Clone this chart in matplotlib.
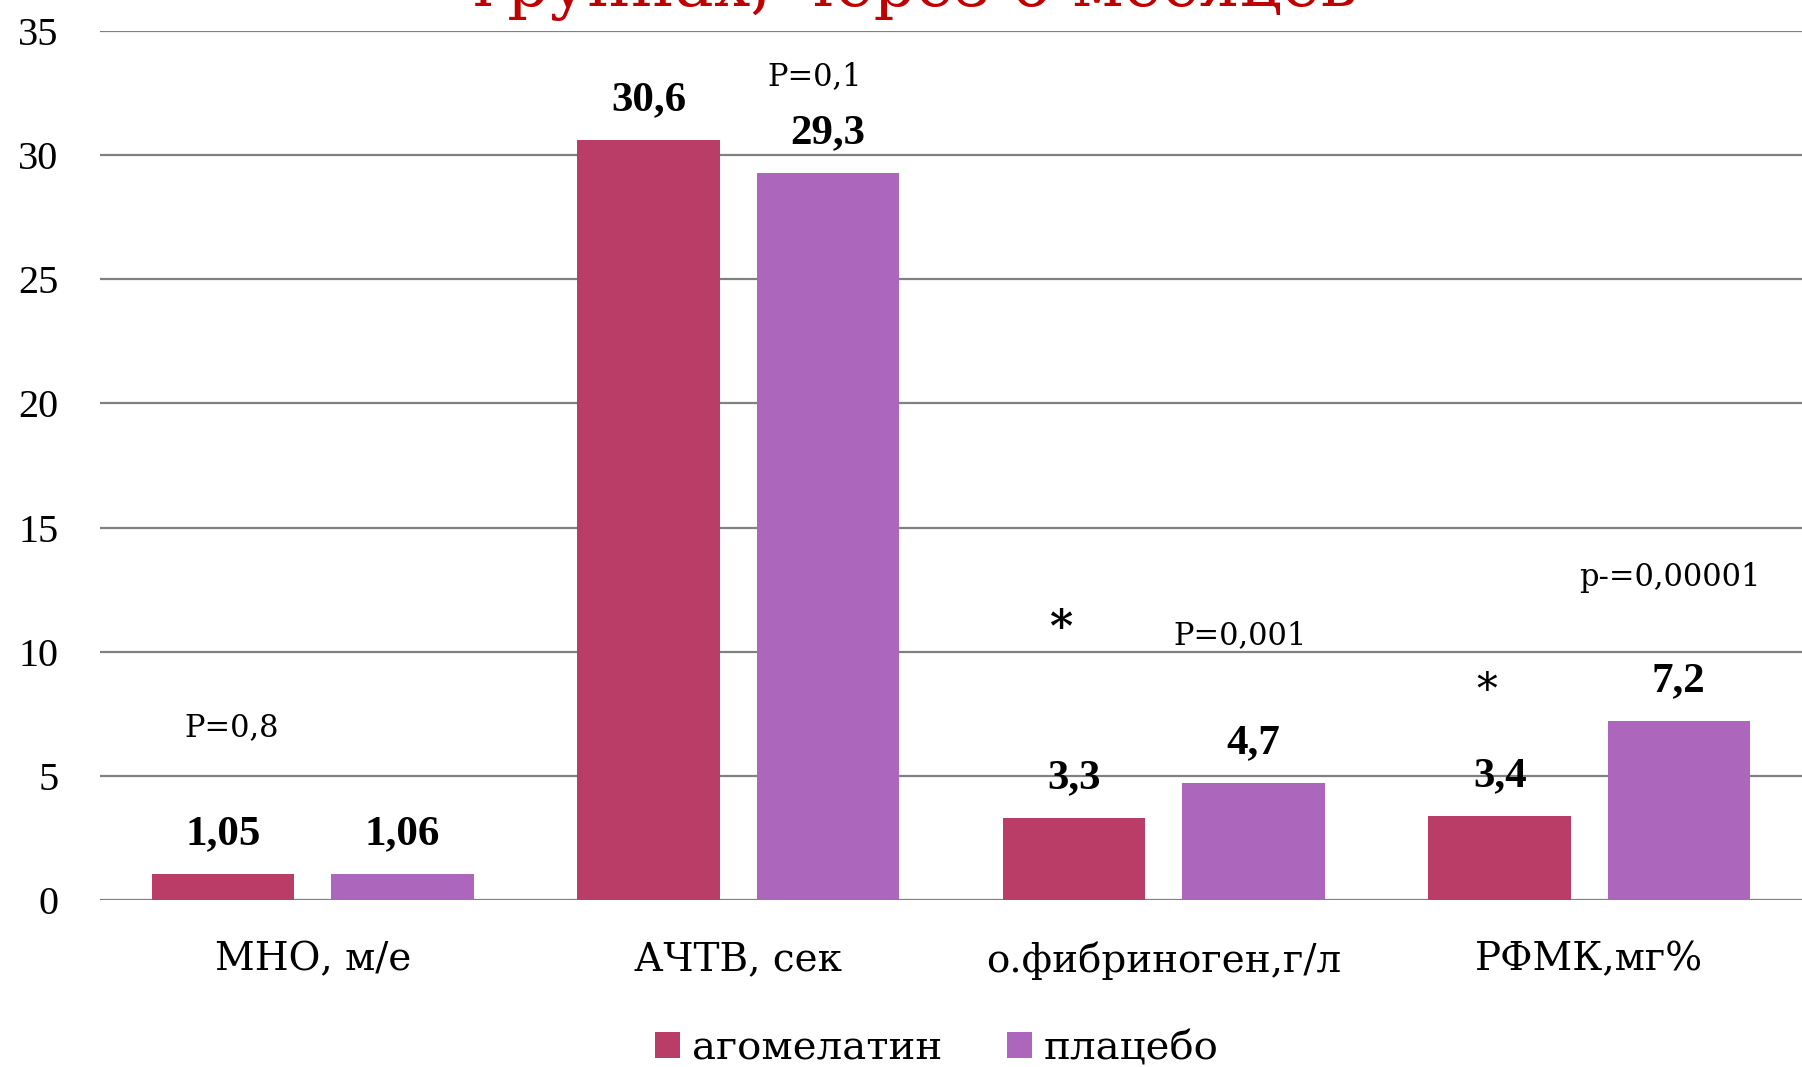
import matplotlib
matplotlib.use("Agg")
import matplotlib.pyplot as plt
import numpy as np

plt.rcParams['font.family'] = ['Liberation Serif', 'DejaVu Serif']

categories = ["МНО, м/е", "АЧТВ, сек", "о.фибриноген,г/л", "РФМК,мг%"]
agomelatin = [1.05, 30.6, 3.3, 3.4]
placebo = [1.06, 29.3, 4.7, 7.2]
agomelatin_labels = ["1,05", "30,6", "3,3", "3,4"]
placebo_labels = ["1,06", "29,3", "4,7", "7,2"]
series_names = ["агомелатин", "плацебо"]

# p-value notes: (x, y, text)
p_notes = [(-0.19, 6.94, "P=0,8"), (1.18, 33.15, "P=0,1"),
           (2.18, 10.65, "P=0,001"), (3.19, 13.0, "p-=0,00001")]
# asterisks: (x, y, bold)
stars = [(1.757, 10.9, True), (2.76, 8.4, False)]

c_ago = "#B93D66"
c_pla = "#AC67BD"
wide = ['DejaVu Serif']

fig = plt.figure(figsize=(18.02, 10.67), dpi=100)
ax = fig.add_axes([100 / 1802, 167 / 1067, 1 - 100 / 1802, (1036 - 167) / 1067])

x = np.arange(len(categories))
w = 0.335
off = w / 2 + 0.043
b1 = ax.bar(x - off, agomelatin, w, color=c_ago, label=series_names[0], zorder=3)
b2 = ax.bar(x + off, placebo, w, color=c_pla, label=series_names[1], zorder=3)

for xi, v, t in zip(x - off, agomelatin, agomelatin_labels):
    ax.text(xi, v + 1.6, t, ha='center', va='center', fontsize=31, fontweight='bold')
for xi, v, t in zip(x + off, placebo, placebo_labels):
    ax.text(xi, v + 1.6, t, ha='center', va='center', fontsize=31, fontweight='bold')

for px, py, t in p_notes:
    ax.text(px, py, t, ha='center', va='center', fontsize=22, family=wide)
for sx, sy, bold in stars:
    ax.text(sx, sy, "*", ha='center', va='center', fontsize=32 if bold else 30,
            family=wide, fontweight='bold' if bold else 'normal')

ax.set_xlim(-0.5, 3.5)
ax.set_ylim(0, 35)
ax.set_yticks(range(0, 36, 5))
ax.set_xticks(x)
ax.set_xticklabels(categories, fontsize=28, family=wide)
ax.tick_params(axis='both', length=0)
ax.tick_params(axis='y', labelsize=29, pad=30)
ax.tick_params(axis='x', pad=30)
ax.grid(axis='y', color='#808080', linewidth=1.6, zorder=0)
for s in ax.spines.values():
    s.set_visible(False)

# title is cut off by the top edge in the original slide
fig.text(0.508, 1 - 6 / 1067, "группах, через 6 месяцев", color="#C00000",
         fontsize=47, ha='center', va='baseline', family=wide)

fig.legend(handles=[b1, b2], loc='center', bbox_to_anchor=(0.52, 0.017),
           ncol=2, frameon=False, prop={'family': wide, 'size': 29},
           handlelength=0.62, handleheight=0.62,
           handletextpad=0.3, columnspacing=1.6)

fig.savefig("out.png", dpi=100)
